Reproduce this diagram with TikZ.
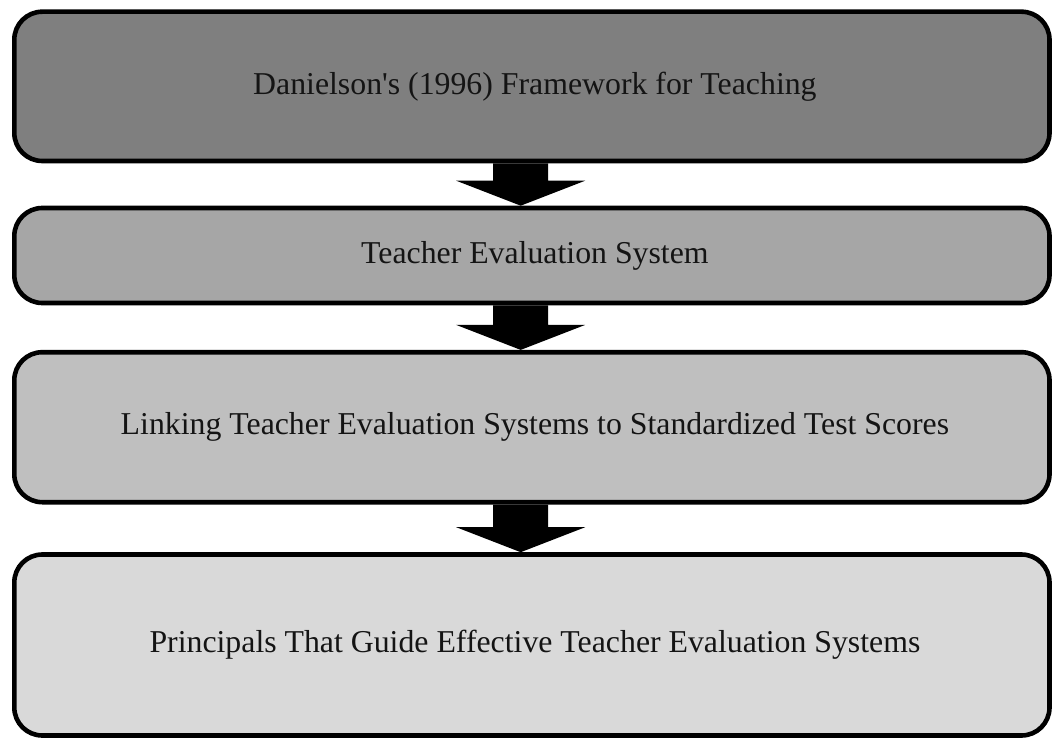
\documentclass[tikz,border=0pt]{standalone}
\usepackage{fontspec}
\setmainfont{Liberation Serif}[Ligatures=TeXOff]
\usetikzlibrary{calc,backgrounds}
\definecolor{stepA}{HTML}{7F7F7F}
\definecolor{stepB}{HTML}{A6A6A6}
\definecolor{stepC}{HTML}{BFBFBF}
\definecolor{stepD}{HTML}{D9D9D9}
\tikzset{
  stagebox/.style={draw=black, line width=4.6pt, rounded corners=28pt,
    minimum width=1035.2pt, inner sep=0pt, align=center,
    font=\fontsize{31.8}{36}\selectfont, text=black!92},
}
% block arrow from the bottom of one box to the top of the next
\newcommand\stagearrow[2]{%
  \fill[black] ($(#1.south)+(-38.7,0)$) -- ($(#2.north)+(-38.7,-25)$)
    -- ($(#2.north)+(-75.7,-25)$) -- ($(#2.north)+(-11.2,0)$)
    -- ($(#2.north)+(53.3,-25)$) -- ($(#2.north)+(16.3,-25)$)
    -- ($(#1.south)+(16.3,0)$) -- cycle;}
\newcommand\lbl[1]{\hspace*{6pt}#1}
\begin{document}
\begin{tikzpicture}[x=1pt,y=-1pt]
  \useasboundingbox (0,0) rectangle (1052,738);
  \node[stagebox, fill=stepA, minimum height=149.3pt] (frame) at (531.9,86.35)
    {\lbl{Danielson's (1996) Framework for Teaching}};
  \node[stagebox, fill=stepB, minimum height=95pt] (system) at (531.9,255.5)
    {\lbl{Teacher Evaluation System}};
  \node[stagebox, fill=stepC, minimum height=150pt] (linking) at (531.9,427.2)
    {\lbl{Linking Teacher Evaluation Systems to Standardized Test Scores}};
  \node[stagebox, fill=stepD, minimum height=181pt] (principals) at (531.9,645)
    {\lbl{Principals That Guide Effective Teacher Evaluation Systems}};
  \begin{scope}[on background layer]
    \fill[white] (0,0) rectangle (1052,738);
    \stagearrow{frame}{system}
    \stagearrow{system}{linking}
    \stagearrow{linking}{principals}
  \end{scope}
\end{tikzpicture}
\end{document}
